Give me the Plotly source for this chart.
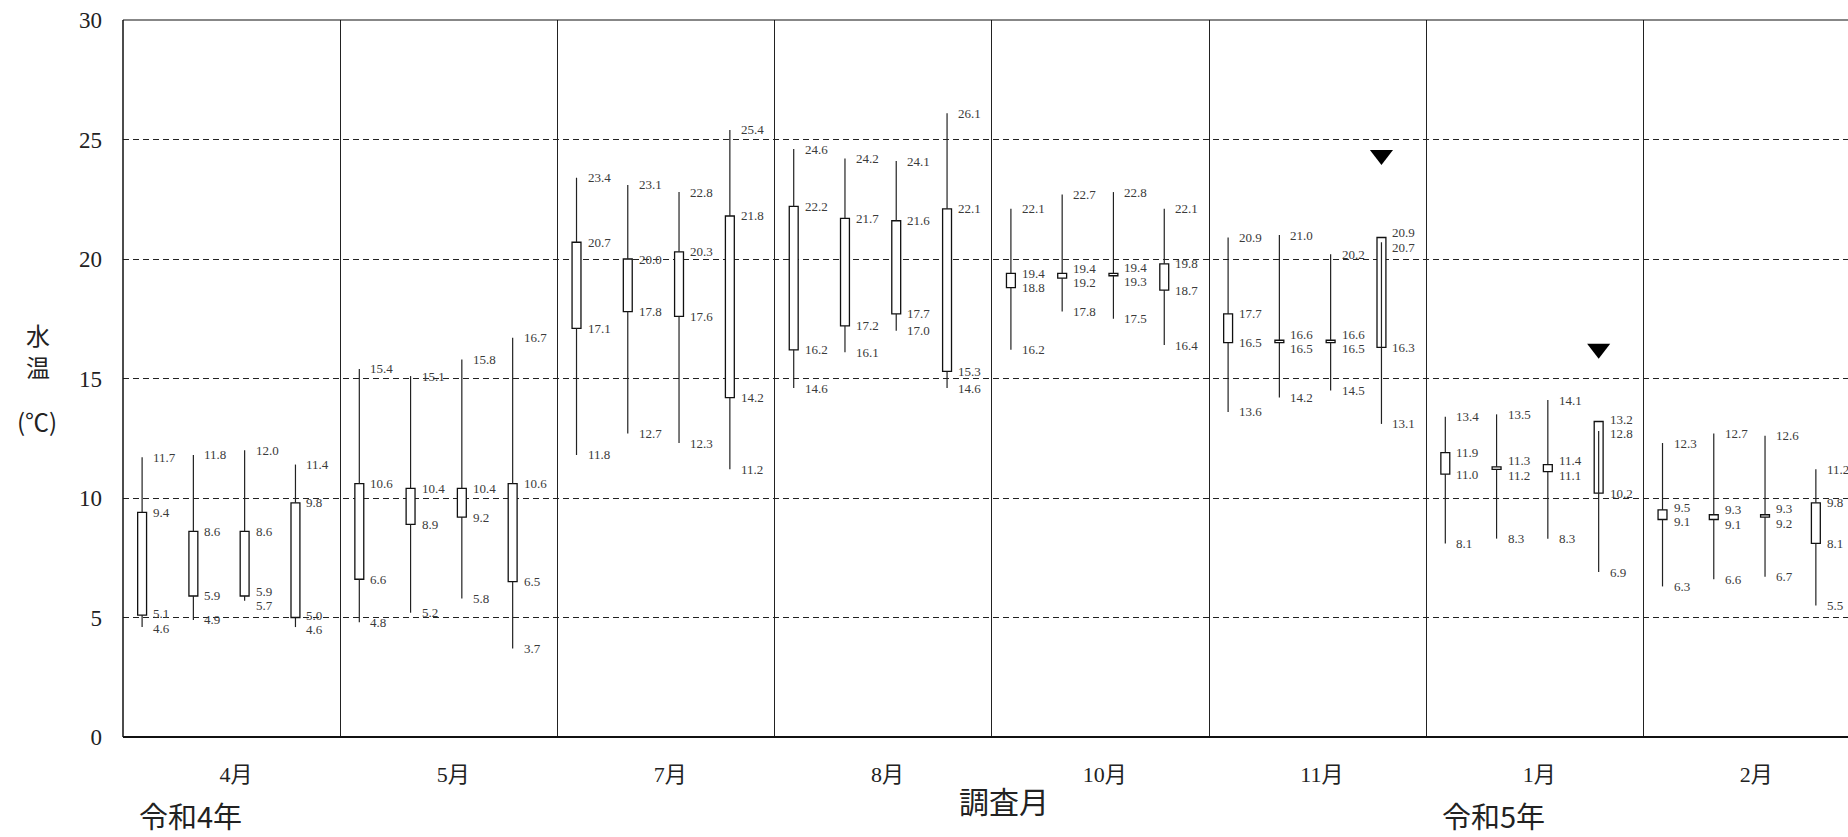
import plotly.graph_objects as go

# Survey months (slots on the x axis) and era captions
months = ["4月", "5月", "7月", "8月", "10月", "11月", "1月", "2月"]
eras = ["令和4年", "令和5年"]

# Water temperature per month, four stations each
high = [
    [11.7, 11.8, 12.0, 11.4],
    [15.4, 15.1, 15.8, 16.7],
    [23.4, 23.1, 22.8, 25.4],
    [24.6, 24.2, 24.1, 26.1],
    [22.1, 22.7, 22.8, 22.1],
    [20.9, 21.0, 20.2, 20.7],
    [13.4, 13.5, 14.1, 12.8],
    [12.3, 12.7, 12.6, 11.2],
]
box_top = [
    [9.4, 8.6, 8.6, 9.8],
    [10.6, 10.4, 10.4, 10.6],
    [20.7, 20.0, 20.3, 21.8],
    [22.2, 21.7, 21.6, 22.1],
    [19.4, 19.4, 19.4, 19.8],
    [17.7, 16.6, 16.6, 20.9],
    [11.9, 11.3, 11.4, 13.2],
    [9.5, 9.3, 9.3, 9.8],
]
box_bottom = [
    [5.1, 5.9, 5.9, 5.0],
    [6.6, 8.9, 9.2, 6.5],
    [17.1, 17.8, 17.6, 14.2],
    [16.2, 17.2, 17.7, 15.3],
    [18.8, 19.2, 19.3, 18.7],
    [16.5, 16.5, 16.5, 16.3],
    [11.0, 11.2, 11.1, 10.2],
    [9.1, 9.1, 9.2, 8.1],
]
low = [
    [4.6, 4.9, 5.7, 4.6],
    [4.8, 5.2, 5.8, 3.7],
    [11.8, 12.7, 12.3, 11.2],
    [14.6, 16.1, 17.0, 14.6],
    [16.2, 17.8, 17.5, 16.4],
    [13.6, 14.2, 14.5, 13.1],
    [8.1, 8.3, 8.3, 6.9],
    [6.3, 6.6, 6.7, 5.5],
]

# Flag markers (month index, station index, height)
flag_month = [5, 6]
flag_station = [3, 3]
flag_y = [24.35, 16.25]

# Layout geometry
W, H = 1848, 837
ML, MT, MB = 123, 20, 100
PLOT_W = W - ML
PLOT_H = H - MT - MB
SLOT_PX = 217.2
X_MAX = PLOT_W / SLOT_PX
station_offsets = [0.088, 0.324, 0.56, 0.794]
BOX_W = 0.041

NUM_FONT = "Liberation Serif, 'Noto Sans CJK JP', serif"
JP_FONT = "'Noto Sans CJK JP', 'Liberation Serif', serif"


def paper_x(px):
    return (px - ML) / PLOT_W


def paper_y(py):
    return (MT + PLOT_H - py) / PLOT_H


xs, bases, heights = [], [], []
wx, wy = [], []
annotations = []

for m in range(len(months)):
    for s in range(4):
        x = m + station_offsets[s]
        hi, tp, bt, lo = high[m][s], box_top[m][s], box_bottom[m][s], low[m][s]
        b_lo, b_hi = min(tp, bt), max(tp, bt)
        xs.append(x)
        bases.append(b_lo)
        heights.append(b_hi - b_lo)
        # lower whisker
        wx += [x, x, None]
        wy += [lo, b_lo, None]
        # upper whisker (may end inside the box)
        if hi >= b_hi:
            wx += [x, x, None]
            wy += [b_hi, hi, None]
        else:
            wx += [x, x, None]
            wy += [b_lo, hi, None]

        # value labels, spread apart when too close
        vals = sorted([hi, tp, bt, lo], reverse=True)
        pos = list(vals)
        gap = 0.6
        for _ in range(20):
            for i in range(len(pos) - 1):
                if pos[i] - pos[i + 1] < gap:
                    mid = (pos[i] + pos[i + 1]) / 2
                    pos[i] = mid + gap / 2
                    pos[i + 1] = mid - gap / 2
        for v, p in zip(vals, pos):
            annotations.append(dict(
                x=x, y=p, xref="x", yref="y", text=f"{v:.1f}",
                showarrow=False, xanchor="left", yanchor="middle", xshift=9,
                font=dict(family=NUM_FONT, size=13, color="#3a3a3a"),
            ))

fig = go.Figure()

fig.add_trace(go.Bar(
    x=xs, y=heights, base=bases, width=BOX_W,
    marker=dict(color="white", line=dict(color="#111", width=1.3)),
    hoverinfo="skip", showlegend=False,
))

fig.add_trace(go.Scatter(
    x=wx, y=wy, mode="lines",
    line=dict(color="#222", width=1.2),
    hoverinfo="skip", showlegend=False,
))

fig.add_trace(go.Scatter(
    x=[m + station_offsets[s] for m, s in zip(flag_month, flag_station)],
    y=flag_y, mode="markers",
    marker=dict(symbol="triangle-down", size=20, color="black"),
    hoverinfo="skip", showlegend=False,
))

# Axis titles and era captions
annotations += [
    dict(x=paper_x(38), y=paper_y(334), xref="paper", yref="paper",
         text="水", showarrow=False, xanchor="center", yanchor="middle",
         font=dict(family=JP_FONT, size=24, color="#222")),
    dict(x=paper_x(38), y=paper_y(366), xref="paper", yref="paper",
         text="温", showarrow=False, xanchor="center", yanchor="middle",
         font=dict(family=JP_FONT, size=24, color="#222")),
    dict(x=paper_x(37), y=paper_y(420), xref="paper", yref="paper",
         text="(℃)", showarrow=False, xanchor="center", yanchor="middle",
         font=dict(family=JP_FONT, size=24, color="#222")),
    dict(x=paper_x(1004), y=paper_y(800), xref="paper", yref="paper",
         text="調査月", showarrow=False, xanchor="center", yanchor="middle",
         font=dict(family=JP_FONT, size=30, color="#222")),
    dict(x=paper_x(137), y=paper_y(815), xref="paper", yref="paper",
         text=eras[0], showarrow=False, xanchor="left", yanchor="middle",
         font=dict(family=JP_FONT, size=29, color="#222")),
    dict(x=paper_x(1440), y=paper_y(815), xref="paper", yref="paper",
         text=eras[1], showarrow=False, xanchor="left", yanchor="middle",
         font=dict(family=JP_FONT, size=29, color="#222")),
]

# Plot frame (left, top, bottom)
shapes = [
    dict(type="line", xref="paper", yref="paper", x0=0, x1=0, y0=0, y1=1,
         line=dict(color="#111", width=1.5)),
    dict(type="line", xref="paper", yref="paper", x0=0, x1=1, y0=1, y1=1,
         line=dict(color="#111", width=1.2)),
    dict(type="line", xref="paper", yref="paper", x0=0, x1=1, y0=0, y1=0,
         line=dict(color="#111", width=2)),
]

fig.update_layout(
    width=W, height=H, autosize=False,
    margin=dict(l=ML, r=0, t=MT, b=MB, pad=0),
    plot_bgcolor="white", paper_bgcolor="white",
    barmode="overlay",
    annotations=annotations, shapes=shapes,
    xaxis=dict(
        range=[0, X_MAX], showline=False, zeroline=False, showgrid=False,
        tickmode="array", tickvals=[m + 0.52 for m in range(len(months))],
        ticktext=months, ticks="", ticklabelstandoff=22,
        tickfont=dict(family=NUM_FONT, size=22, color="#222"),
        minor=dict(tickmode="array", tickvals=list(range(1, len(months) + 1)),
                   showgrid=True, gridcolor="#222", gridwidth=1, ticks=""),
    ),
    yaxis=dict(
        range=[0, 30], tickmode="array", tickvals=[0, 5, 10, 15, 20, 25, 30],
        showline=False, zeroline=False, showgrid=True,
        gridcolor="#222", gridwidth=1, griddash="6px,4px",
        ticks="", ticklabelstandoff=20,
        tickfont=dict(family=NUM_FONT, size=23, color="#222"),
    ),
)

fig.write_html("out.html", config={"displayModeBar": False})
